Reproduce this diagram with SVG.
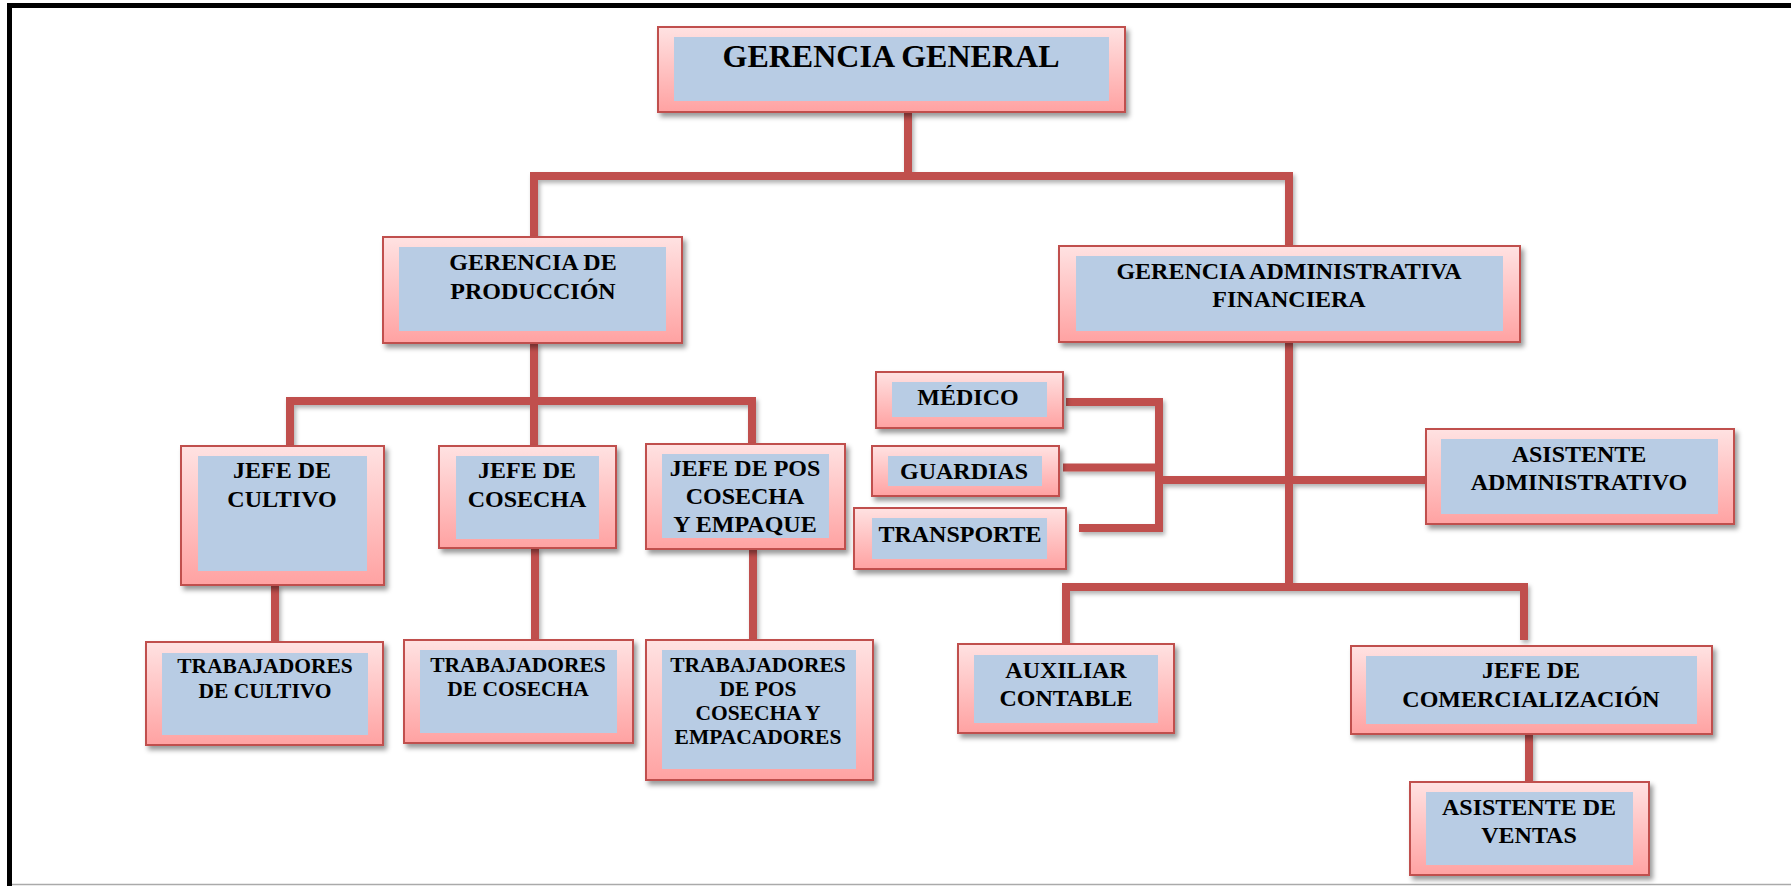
<svg xmlns="http://www.w3.org/2000/svg" width="1791" height="886" viewBox="0 0 1791 886">
<style>
.outer{fill:url(#pink);stroke:#c0504d;stroke-width:2;filter:url(#sh)}
.inner{fill:#b8cce4}
.t{font-family:"Liberation Serif","Times New Roman",serif;font-weight:bold;font-size:24px;fill:#000;text-anchor:middle}
.s{font-size:21.5px}
.big{font-size:32px}
.c{fill:none;stroke:#c0504d;stroke-width:8;stroke-linejoin:miter;stroke-linecap:butt}
</style>
<defs>
<linearGradient id="pink" x1="0" y1="0" x2="0" y2="1">
<stop offset="0" stop-color="#ffe2e2"/>
<stop offset="1" stop-color="#ffa2a2"/>
</linearGradient>
<filter id="sh" x="-10%" y="-10%" width="125%" height="130%">
<feDropShadow dx="3" dy="4" stdDeviation="2.5" flood-color="#000" flood-opacity="0.4"/>
</filter>
<filter id="shc" x="-5%" y="-5%" width="115%" height="120%">
<feDropShadow dx="2" dy="3" stdDeviation="2" flood-color="#000" flood-opacity="0.3"/>
</filter>
</defs>
<rect width="1791" height="886" fill="#fff"/>
<g id="frame">
<path d="M7 5.5H1791" stroke="#000" stroke-width="5"/>
<path d="M9.5 3V886" stroke="#000" stroke-width="5"/>
<path d="M12 884.5H1791" stroke="#aaa" stroke-width="1.5"/>
</g>
<g id="connectors" filter="url(#shc)">
<path class="c" d="M908 112V176"/>
<path class="c" d="M534 237V176H1289V246"/>
<path class="c" d="M534 343V446"/>
<path class="c" d="M290 446V401H752V444"/>
<path class="c" d="M275 585V642"/>
<path class="c" d="M535 548V640"/>
<path class="c" d="M753 549V640"/>
<path class="c" d="M1289 342V587"/>
<path class="c" d="M1066 645V587H1524V640"/>
<path class="c" d="M1529 734V782"/>
<path class="c" d="M1066 402H1159V528H1079"/>
<path class="c" d="M1063 467.5H1159"/>
<path class="c" d="M1159 480H1426"/>
</g>
<g id="gerencia-general">
<rect class="outer" x="658" y="27" width="467" height="85"/>
<rect class="inner" x="674" y="37" width="435" height="64"/>
<text class="t big" x="891" y="67">GERENCIA GENERAL</text>
</g>
<g id="gerencia-produccion">
<rect class="outer" x="383" y="237" width="299" height="106"/>
<rect class="inner" x="399" y="247" width="267" height="84"/>
<text class="t"><tspan x="533" y="270">GERENCIA DE</tspan><tspan x="533" y="299">PRODUCCIÓN</tspan></text>
</g>
<g id="gerencia-administrativa">
<rect class="outer" x="1059" y="246" width="461" height="96"/>
<rect class="inner" x="1076" y="256" width="427" height="75"/>
<text class="t"><tspan x="1289" y="279">GERENCIA ADMINISTRATIVA</tspan><tspan x="1289" y="307">FINANCIERA</tspan></text>
</g>
<g id="jefe-cultivo">
<rect class="outer" x="181" y="446" width="203" height="139"/>
<rect class="inner" x="198" y="456" width="169" height="115"/>
<text class="t"><tspan x="282" y="478">JEFE DE</tspan><tspan x="282" y="507">CULTIVO</tspan></text>
</g>
<g id="jefe-cosecha">
<rect class="outer" x="439" y="446" width="177" height="102"/>
<rect class="inner" x="456" y="456" width="143" height="83"/>
<text class="t"><tspan x="527" y="478">JEFE DE</tspan><tspan x="527" y="507">COSECHA</tspan></text>
</g>
<g id="jefe-pos-cosecha">
<rect class="outer" x="646" y="444" width="199" height="105"/>
<rect class="inner" x="662" y="454" width="167" height="84"/>
<text class="t"><tspan x="745" y="476">JEFE DE POS</tspan><tspan x="745" y="504">COSECHA</tspan><tspan x="745" y="532">Y EMPAQUE</tspan></text>
</g>
<g id="trabajadores-cultivo">
<rect class="outer" x="146" y="642" width="237" height="103"/>
<rect class="inner" x="162" y="653" width="206" height="82"/>
<text class="t s"><tspan x="265" y="673">TRABAJADORES</tspan><tspan x="265" y="698">DE CULTIVO</tspan></text>
</g>
<g id="trabajadores-cosecha">
<rect class="outer" x="404" y="640" width="229" height="103"/>
<rect class="inner" x="420" y="650" width="197" height="83"/>
<text class="t s"><tspan x="518" y="672">TRABAJADORES</tspan><tspan x="518" y="696">DE COSECHA</tspan></text>
</g>
<g id="trabajadores-pos-cosecha">
<rect class="outer" x="646" y="640" width="227" height="140"/>
<rect class="inner" x="662" y="650" width="194" height="119"/>
<text class="t s"><tspan x="758" y="672">TRABAJADORES</tspan><tspan x="758" y="696">DE POS</tspan><tspan x="758" y="720">COSECHA Y</tspan><tspan x="758" y="744">EMPACADORES</tspan></text>
</g>
<g id="medico">
<rect class="outer" x="876" y="372" width="187" height="56"/>
<rect class="inner" x="892" y="382" width="155" height="35"/>
<text class="t" x="968" y="405">MÉDICO</text>
</g>
<g id="guardias">
<rect class="outer" x="872" y="446" width="187" height="50"/>
<rect class="inner" x="888" y="456" width="154" height="30"/>
<text class="t" x="964" y="479">GUARDIAS</text>
</g>
<g id="transporte">
<rect class="outer" x="854" y="508" width="212" height="61"/>
<rect class="inner" x="872" y="518" width="175" height="41"/>
<text class="t" x="960" y="542">TRANSPORTE</text>
</g>
<g id="asistente-administrativo">
<rect class="outer" x="1426" y="429" width="308" height="95"/>
<rect class="inner" x="1441" y="439" width="277" height="75"/>
<text class="t"><tspan x="1579" y="462">ASISTENTE</tspan><tspan x="1579" y="490">ADMINISTRATIVO</tspan></text>
</g>
<g id="auxiliar-contable">
<rect class="outer" x="958" y="644" width="216" height="89"/>
<rect class="inner" x="974" y="655" width="184" height="68"/>
<text class="t"><tspan x="1066" y="678">AUXILIAR</tspan><tspan x="1066" y="706">CONTABLE</tspan></text>
</g>
<g id="jefe-comercializacion">
<rect class="outer" x="1351" y="646" width="361" height="88"/>
<rect class="inner" x="1366" y="656" width="331" height="68"/>
<text class="t"><tspan x="1531" y="678">JEFE DE</tspan><tspan x="1531" y="707">COMERCIALIZACIÓN</tspan></text>
</g>
<g id="asistente-ventas">
<rect class="outer" x="1410" y="782" width="239" height="93"/>
<rect class="inner" x="1426" y="792" width="207" height="73"/>
<text class="t"><tspan x="1529" y="815">ASISTENTE DE</tspan><tspan x="1529" y="843">VENTAS</tspan></text>
</g>
</svg>
